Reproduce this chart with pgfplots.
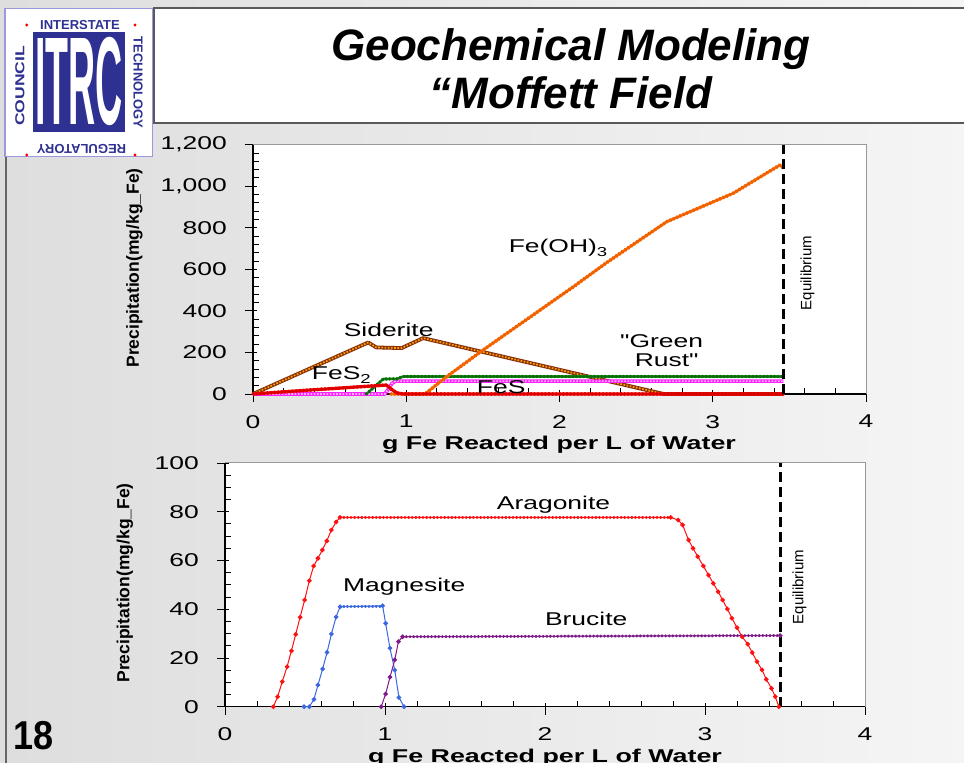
\documentclass[border=0pt]{standalone}
\usepackage{fontspec}
\setmainfont{Liberation Sans}
\newfontfamily\qfont{Liberation Sans}
\usepackage{graphicx}
\usepackage{pgfplots}
\pgfplotsset{compat=1.18}

\definecolor{navy}{HTML}{2E3192}
\definecolor{fered}{HTML}{FF7A10}
\definecolor{fedark}{HTML}{F06000}
\definecolor{sidbrown}{HTML}{8B2E0A}
\definecolor{sidfill}{HTML}{F8A800}
\definecolor{grgreen}{HTML}{1A9A1A}
\definecolor{grdark}{HTML}{0B6A0B}
\definecolor{fesmag}{HTML}{FF22FF}
\definecolor{fespink}{HTML}{FFB8FF}
\definecolor{arared}{HTML}{FF1010}
\definecolor{magblue}{HTML}{3A66E0}
\definecolor{brupurple}{HTML}{7F1A8A}

\newcommand{\cf}{\fontsize{18.5bp}{21bp}\selectfont}
\newcommand{\sx}[1]{\scalebox{1.43}[1]{#1}}

\pgfplotsset{
  myax/.style={
    scale only axis,
    axis lines=left,
    axis line style={-, line width=1.1bp, black},
    xmin=0, xmax=4, xtick={0,1,2,3,4}, minor x tick num=4,
    tick align=center,
    major tick length=12bp, minor tick length=6bp,
    minor x tick style={yshift=3bp}, minor y tick style={xshift=3bp},
    major x tick style={yshift=-2bp}, major y tick style={xshift=-2bp},
    tick style={black, line width=0.9bp},
    /pgf/number format/assume math mode=true,
    xticklabel={\sx{\pgfmathprintnumber{\tick}}},
    yticklabel={\sx{\pgfmathprintnumber{\tick}}},
    ticklabel style={font=\cf, inner sep=0pt},
    xticklabel style={anchor=north, yshift=-15bp},
    yticklabel style={anchor=east, xshift=-20bp},
    axis background/.style={fill=white},
    clip=false,
  },
}
\tikzset{
  beads/.style={line width=#1, dash pattern=on 0.4bp off 3.2bp, line cap=round},
  stitch/.style={line width=#1, dash pattern=on 1.6bp off 1.6bp},
}

\begin{document}
\begin{tikzpicture}[x=1bp,y=1bp]
\path[use as bounding box] (0,0) rectangle (964,763);
\shade[left color=black!13, right color=black!4] (0,0) rectangle (964,763);
\draw[black!60, line width=1.2bp] (6,0) -- (6,606);

% title box
\fill[white] (154,640) rectangle (964,755);
\draw[black!65, line width=1.5bp] (964,755) -- (154,755) -- (154,640) -- (964,640);
\node[font=\fontsize{44bp}{48bp}\selectfont\bfseries\itshape, anchor=base] at (571,702) {Geochemical Modeling};
\node[font=\fontsize{44bp}{48bp}\selectfont\bfseries\itshape, anchor=base] at (571,654) {“Moffett Field};

% logo
\fill[white] (5,606.3) rectangle (152.7,754.7);
\draw[black!35!blue!40, line width=1.5bp] (5,606.3) rectangle (152.7,754.7);
\fill[navy] (33.3,631.3) rectangle (125,731.3);
\node[text=white, inner sep=0pt] at (79.2,681.3) {\scalebox{0.30}[1]{\fontsize{125bp}{125bp}\selectfont\bfseries ITRC}};
\node[text=navy, font=\fontsize{13bp}{13bp}\selectfont\bfseries] at (80,738.3) {INTERSTATE};
\node[text=navy, font=\fontsize{13bp}{13bp}\selectfont\bfseries, rotate=-90] at (138,680.5) {TECHNOLOGY};
\node[text=navy, font=\fontsize{13bp}{13bp}\selectfont\bfseries, rotate=90] at (20,677) {\scalebox{1.35}[1]{COUNCIL}};
\node[text=navy, font=\fontsize{13bp}{13bp}\selectfont\bfseries, rotate=180] at (81.5,614.5) {REGULATORY};
\foreach \p in {(26.7,738),(135,738),(26.7,608),(135,608)} \fill[red] \p circle (1.6);

% page number
\node[font=\fontsize{36bp}{36bp}\selectfont\bfseries, anchor=base west, inner sep=0pt] at (13,13) {\scalebox{1}[1.12]{18}};

% ---------------- top chart ----------------
\begin{scope}[shift={(253bp,369bp)}]
\begin{axis}[myax, at={(0pt,0pt)}, anchor=origin, width=613bp, height=249.3bp,
  ymin=0, ymax=1200, ytick={0,200,400,600,800,1000,1200}, minor y tick num=4]
\draw[black!40, line width=1bp] (axis cs:0,1200) -- (axis cs:4,1200) -- (axis cs:4,0);
% Siderite
\addplot[sidbrown, line width=3.8bp, line join=round] coordinates {(0,0) (0.752,248) (0.805,224) (0.97,221) (1.11,269) (2.68,0) (3.46,0)};
\addplot[sidfill, stitch=1.7bp] coordinates {(0,0) (0.752,248) (0.805,224) (0.97,221) (1.11,269) (2.68,0) (3.46,0)};
% FeS
\addplot[fesmag, line width=3.6bp, line join=round] coordinates {(0,0) (0.86,0) (0.889,29) (0.907,51) (0.93,62) (3.46,62)};
\addplot[fespink, stitch=1.6bp] coordinates {(0,0) (0.86,0) (0.889,29) (0.907,51) (0.93,62) (3.46,62)};
% Green rust
\addplot[grgreen, line width=2.6bp, line join=round] coordinates {(0.74,0) (0.85,72) (0.94,73) (0.98,84) (3.46,84)};
\addplot[grdark, beads=3.4bp] coordinates {(0.74,0) (0.85,72) (0.94,73) (0.98,84) (3.46,84)};
% Fe(OH)3
\addplot[fered, line width=2.8bp, line join=round] coordinates {(0.9,0) (1.122,0) (1.263,83) (1.502,212) (2.09,516) (2.307,632) (2.699,829) (3.133,966) (3.438,1102) (3.46,1088)};
\addplot[fedark, beads=3.8bp] coordinates {(0.9,0) (1.122,0) (1.263,83) (1.502,212) (2.09,516) (2.307,632) (2.699,829) (3.133,966) (3.438,1102) (3.46,1088)};
% FeS2
\addplot[red, line width=3.2bp, line join=round] coordinates {(0,0) (0.37,19) (0.87,43) (0.91,19) (0.94,5) (0.98,0) (3.46,0)};
\addplot[red!85!black, beads=3.6bp] coordinates {(0,0) (0.37,19) (0.87,43) (0.91,19) (0.94,5) (0.98,0) (3.46,0)};
% equilibrium
\addplot[black, line width=2.6bp, dash pattern=on 10bp off 5bp] coordinates {(3.46,0) (3.46,1200)};
\end{axis}
\end{scope}

% ---------------- bottom chart ----------------
\begin{scope}[shift={(225bp,56.3bp)}]
\begin{axis}[myax, at={(0pt,0pt)}, anchor=origin, width=640bp, height=243.7bp,
  ymin=0, ymax=100, ytick={0,20,40,60,80,100}, minor y tick num=3]
\draw[black!40, line width=1bp] (axis cs:0,100) -- (axis cs:4,100) -- (axis cs:4,0);
% Aragonite
\addplot[arared, line width=1bp, mark=*, mark size=1.8bp, mark options={fill=arared}] coordinates {
(0.302,0) (0.329,4.1) (0.358,10.3) (0.388,16.4) (0.415,22.9) (0.442,29.7) (0.469,36.7) (0.498,43.8)
(0.527,51.7) (0.554,57.7) (0.581,60.9) (0.608,64.3) (0.636,68.0) (0.665,72.5) (0.694,75.8) (0.719,77.7)
(2.786,77.7) (2.832,76.6) (2.86,74.6) (2.897,68.4) (2.925,65) (2.955,61.6) (2.99,57.7) (3.022,54)
(3.052,50.6) (3.082,47.2) (3.11,43.8) (3.14,40.1) (3.168,36.3) (3.2,32.4) (3.232,28.7) (3.267,25.7)
(3.295,22.2) (3.325,18.5) (3.356,15.1) (3.383,11.2) (3.416,7.5) (3.439,4.1) (3.462,0)};
\addplot[arared, beads=3bp] coordinates {(0.719,77.7) (2.786,77.7)};
% Magnesite
\addplot[magblue, line width=1bp, mark=*, mark size=1.8bp, mark options={fill=magblue}] coordinates {
(0.494,0) (0.527,0) (0.556,3.0) (0.581,8.9) (0.61,15.5) (0.638,22.3) (0.665,29.8) (0.694,36.8) (0.719,41)
(0.985,41.4) (1.004,34.2) (1.031,24) (1.061,15) (1.087,3.8) (1.119,0)};
\addplot[magblue, beads=3bp] coordinates {(0.719,41.2) (0.985,41.2)};
% Brucite
\addplot[brupurple, line width=1bp, mark=*, mark size=1.8bp, mark options={fill=brupurple}] coordinates {
(0.976,0) (1.004,5.2) (1.031,12.1) (1.061,19.2) (1.084,26.7) (1.11,28.7) (3.47,29.2)};
\addplot[brupurple, beads=3bp] coordinates {(1.11,28.7) (3.47,29.2)};
% equilibrium
\addplot[black, line width=2.6bp, dash pattern=on 10bp off 5bp] coordinates {(3.47,0) (3.47,100)};
\end{axis}
\end{scope}

% axis titles
\node[anchor=base, font=\cf\bfseries, inner sep=0pt] at (559,313) {\scalebox{1.45}[1]{g Fe Reacted per L of Water}};
\node[anchor=base, font=\cf\bfseries, inner sep=0pt] at (545,0) {\scalebox{1.45}[1]{g Fe Reacted per L of Water}};
\node[rotate=90, font=\fontsize{17.5bp}{18bp}\selectfont\bfseries, inner sep=0pt] at (134.5,495) {Precipitation(mg/kg\_Fe)};
\node[rotate=90, font=\fontsize{17.5bp}{18bp}\selectfont\bfseries, inner sep=0pt] at (125,180) {Precipitation(mg/kg\_Fe)};
\node[rotate=90, font=\fontsize{15bp}{15bp}\selectfont, inner sep=0pt] at (807.5,490) {Equilibrium};
\node[rotate=90, font=\fontsize{15bp}{15bp}\selectfont, inner sep=0pt] at (799.6,176) {Equilibrium};

% series labels
\node[anchor=base west, font=\cf, inner sep=0pt] at (508.6,510) {\sx{Fe(OH)\textsubscript{3}}};
\node[anchor=base west, font=\cf, inner sep=0pt] at (343.6,426.3) {\sx{Siderite}};
\node[anchor=base west, font=\cf, inner sep=0pt] at (311.7,383) {\sx{FeS\textsubscript{2}}};
\node[anchor=base west, font=\cf, inner sep=0pt] at (476.7,369.7) {\sx{FeS}};
\node[anchor=base west, font=\cf\qfont, inner sep=0pt] at (620,415) {\sx{"Green}};
\node[anchor=base west, font=\cf\qfont, inner sep=0pt] at (634.6,396) {\sx{Rust"}};
\node[anchor=base west, font=\cf, inner sep=0pt] at (496.7,253) {\sx{Aragonite}};
\node[anchor=base west, font=\cf, inner sep=0pt] at (343,171.5) {\sx{Magnesite}};
\node[anchor=base west, font=\cf, inner sep=0pt] at (544.8,137.7) {\sx{Brucite}};
\end{tikzpicture}
\end{document}
